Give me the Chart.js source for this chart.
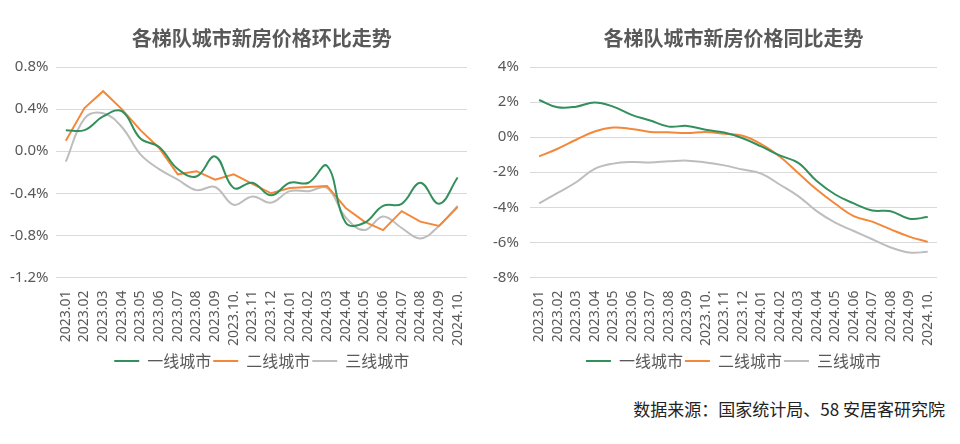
<!DOCTYPE html>
<html>
<head>
<meta charset="utf-8">
<script src="https://cdn.jsdelivr.net/npm/chart.js@4.4.0/dist/chart.umd.min.js"></script>
<style>
    body { margin: 0; background: #fff; width: 960px; height: 444px; overflow: hidden; position: relative; }
    .box { position: absolute; top: 0; width: 480px; height: 383px; }
    #leftBox { left: 0; }
    #rightBox { left: 480px; }
    #source {
        position: absolute; right: 15px; top: 396px;
        font-family: "Noto Sans CJK SC", sans-serif; font-size: 17px; color: #222;
    }
</style>
</head>
<body>
<div class="box" id="leftBox"><canvas id="momChart"></canvas></div>
<div class="box" id="rightBox"><canvas id="yoyChart"></canvas></div>
<div id="source">数据来源：国家统计局、58 安居客研究院</div>
<script>
// 横轴月份
const months = [
    '2023.01', '2023.02', '2023.03', '2023.04', '2023.05', '2023.06', '2023.07', '2023.08',
    '2023.09', '2023.10.', '2023.11', '2023.12', '2024.01', '2024.02', '2024.03', '2024.04',
    '2024.05', '2024.06', '2024.07', '2024.08', '2024.09', '2024.10.'
];
const seriesNames = ['一线城市', '二线城市', '三线城市'];

// 环比 (%)
const momTier1 = [0.20, 0.20, 0.33, 0.38, 0.12, 0.04, -0.17, -0.24, -0.05, -0.35, -0.30, -0.42,
    -0.30, -0.30, -0.14, -0.68, -0.68, -0.52, -0.50, -0.30, -0.50, -0.25];
const momTier2 = [0.10, 0.41, 0.57, 0.40, 0.20, 0.03, -0.22, -0.19, -0.27, -0.22, -0.31, -0.40,
    -0.35, -0.34, -0.33, -0.54, -0.67, -0.75, -0.57, -0.67, -0.71, -0.53];
const momTier3 = [-0.10, 0.31, 0.36, 0.23, -0.03, -0.17, -0.27, -0.37, -0.34, -0.51, -0.43, -0.49,
    -0.38, -0.38, -0.35, -0.63, -0.75, -0.62, -0.73, -0.83, -0.71, -0.52];

// 同比 (%)
const yoyTier1 = [2.12, 1.70, 1.74, 1.98, 1.74, 1.27, 0.95, 0.60, 0.64, 0.42, 0.26, -0.06,
    -0.53, -1.04, -1.47, -2.50, -3.27, -3.78, -4.18, -4.22, -4.65, -4.56];
const yoyTier2 = [-1.10, -0.66, -0.15, 0.32, 0.55, 0.47, 0.30, 0.28, 0.23, 0.30, 0.19, 0.08,
    -0.40, -1.10, -2.04, -2.99, -3.80, -4.50, -4.82, -5.26, -5.67, -5.97];
const yoyTier3 = [-3.78, -3.18, -2.57, -1.81, -1.51, -1.42, -1.44, -1.38, -1.34, -1.44, -1.61, -1.85,
    -2.08, -2.70, -3.36, -4.22, -4.88, -5.35, -5.82, -6.29, -6.58, -6.54];

const colors = ['#33905c', '#f4883a', '#bdbdbd'];
const fontFamily = '"Noto Sans", "Noto Sans CJK SC", sans-serif';
const cjkFont = '"Noto Sans CJK SC", sans-serif';
const textColor = '#595959';

function makeDatasets(values, tensions) {
    return values.map((data, i) => ({
        label: seriesNames[i],
        data: data,
        borderColor: colors[i],
        backgroundColor: colors[i],
        borderWidth: 2,
        pointRadius: 0,
        tension: tensions[i]
    }));
}

function createChart(id, title, datasets, yMin, yMax, step, decimals, padding, tickPad) {
    return new Chart(document.getElementById(id), {
        type: 'line',
        data: { labels: months, datasets: datasets },
        options: {
            responsive: true,
            maintainAspectRatio: false,
            animation: false,
            layout: { padding: padding },
            plugins: {
                title: {
                    display: true,
                    fullSize: false,
                    text: title,
                    color: textColor,
                    font: { family: cjkFont, size: 20, weight: 'bold' },
                    padding: { top: 26, bottom: 17 }
                },
                legend: {
                    position: 'bottom',
                    fullSize: false,
                    labels: {
                        color: textColor,
                        font: { family: cjkFont, size: 16 },
                        boxWidth: 25,
                        boxHeight: 0,
                        padding: 2,
                        generateLabels: chart => chart.data.datasets.map((ds, i) => ({
                            text: ds.label,
                            strokeStyle: ds.borderColor,
                            fillStyle: ds.borderColor,
                            lineWidth: 2,
                            fontColor: textColor,
                            datasetIndex: i
                        }))
                    }
                },
                tooltip: { enabled: false }
            },
            scales: {
                x: {
                    offset: true,
                    grid: { display: false },
                    border: { display: false },
                    ticks: {
                        color: textColor,
                        font: { family: fontFamily, size: 14 },
                        maxRotation: 90,
                        minRotation: 90,
                        autoSkip: false,
                        padding: 5
                    }
                },
                y: {
                    min: yMin,
                    max: yMax,
                    grid: { color: '#d9d9d9', drawTicks: false },
                    border: { display: false },
                    ticks: {
                        stepSize: step,
                        color: textColor,
                        font: { family: fontFamily, size: 15 },
                        padding: tickPad,
                        callback: v => v.toFixed(decimals) + '%'
                    }
                }
            }
        }
    });
}

createChart('momChart', '各梯队城市新房价格环比走势',
    makeDatasets([momTier1, momTier2, momTier3], [0.4, 0, 0.4]),
    -1.2, 0.8, 0.4, 1, { left: 2, right: 13, bottom: 4 }, 8);

createChart('yoyChart', '各梯队城市新房价格同比走势',
    makeDatasets([yoyTier1, yoyTier2, yoyTier3], [0.4, 0.4, 0.4]),
    -8, 4, 2, 0, { left: 2, right: 23, bottom: 4 }, 11);
</script>
</body>
</html>
